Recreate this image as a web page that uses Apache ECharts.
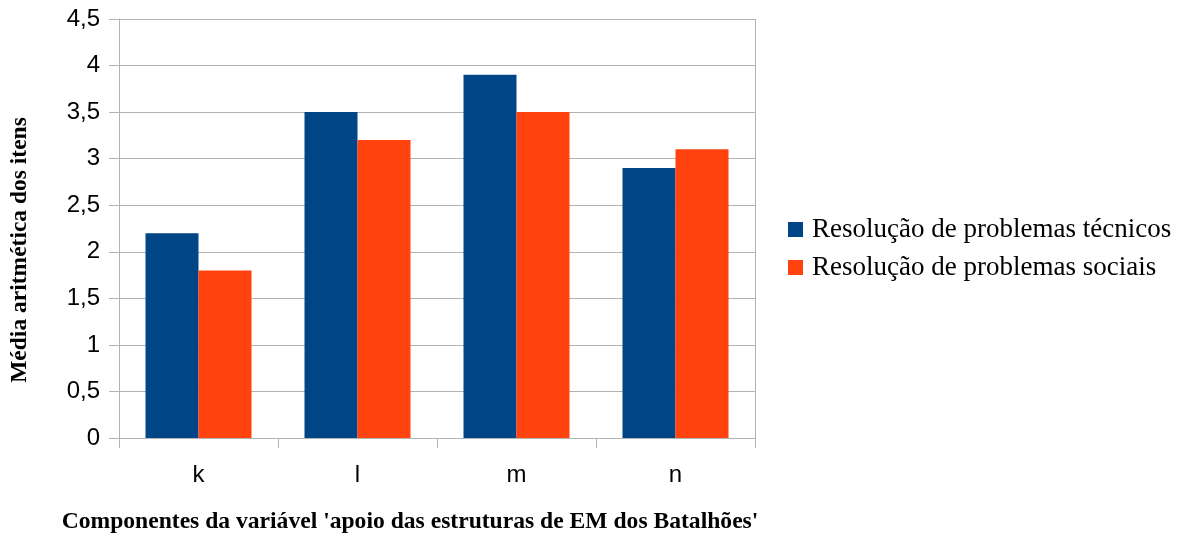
<!DOCTYPE html>
<html>
<head>
<meta charset="utf-8">
<script src="https://cdn.jsdelivr.net/npm/echarts@6/dist/echarts.min.js"></script>
<style>
  html, body { margin: 0; padding: 0; background: #fff; }
  #chart { width: 1179px; height: 538px; }
</style>
</head>
<body>
<div id="chart"></div>
<script>
// Components of the variable and the mean item score for each kind of problem solving
const categories = ['k', 'l', 'm', 'n'];
const tecnicos = [2.2, 3.5, 3.9, 2.9];
const sociais = [1.8, 3.2, 3.5, 3.1];
const seriesNames = ['Resolução de problemas técnicos', 'Resolução de problemas sociais'];
const yTitle = 'Média aritmética dos itens';
const xTitle = "Componentes da variável 'apoio das estruturas de EM dos Batalhões'";

const chart = echarts.init(document.getElementById('chart'), null, { renderer: 'canvas' });

const option = {
  backgroundColor: '#ffffff',
  animation: false,
  color: ['#004586', '#ff420e'],
  grid: { left: 119, top: 19, width: 636, height: 419, containLabel: false },
  legend: {
    orient: 'vertical',
    left: 783,
    top: 211,
    itemWidth: 15,
    itemHeight: 15,
    itemGap: 11,
    icon: 'rect',
    textStyle: { fontFamily: 'Liberation Serif', fontSize: 27, color: '#000', padding: [0, 0, 0, 4] },
    data: seriesNames
  },
  xAxis: {
    type: 'category',
    data: categories,
    boundaryGap: true,
    axisLine: { show: true, lineStyle: { color: '#b3b3b3', width: 1 } },
    axisTick: { show: true, length: 10, lineStyle: { color: '#b3b3b3' } },
    axisLabel: { fontFamily: 'Liberation Sans', fontSize: 24, color: '#000', margin: 25 },
    splitLine: { show: false }
  },
  yAxis: {
    type: 'value',
    min: 0,
    max: 4.5,
    interval: 0.5,
    axisLine: { show: true, lineStyle: { color: '#b3b3b3', width: 1 } },
    axisTick: { show: true, length: 10, lineStyle: { color: '#b3b3b3' } },
    axisLabel: {
      fontFamily: 'Liberation Sans', fontSize: 24, color: '#000', margin: 19,
      formatter: v => String(v).replace('.', ',')
    },
    splitLine: { show: true, lineStyle: { color: '#b3b3b3', width: 1 } }
  },
  graphic: [
    {
      type: 'line',
      shape: { x1: 755.5, y1: 19, x2: 755.5, y2: 438 },
      style: { stroke: '#b3b3b3', lineWidth: 1 }
    },
    {
      type: 'text',
      x: 20, y: 250,
      rotation: Math.PI / 2,
      style: {
        text: yTitle,
        fontFamily: 'Liberation Serif', fontWeight: 'bold', fontSize: 23.5,
        fill: '#000', align: 'center', verticalAlign: 'middle'
      }
    },
    {
      type: 'text',
      x: 410, y: 522,
      style: {
        text: xTitle,
        fontFamily: 'Liberation Serif', fontWeight: 'bold', fontSize: 23.6,
        fill: '#000', align: 'center', verticalAlign: 'middle'
      }
    }
  ],
  series: [
    { name: seriesNames[0], type: 'bar', data: tecnicos, barWidth: 53, barGap: '0%' },
    { name: seriesNames[1], type: 'bar', data: sociais, barWidth: 53, barGap: '0%' }
  ]
};

chart.setOption(option);
</script>
</body>
</html>
